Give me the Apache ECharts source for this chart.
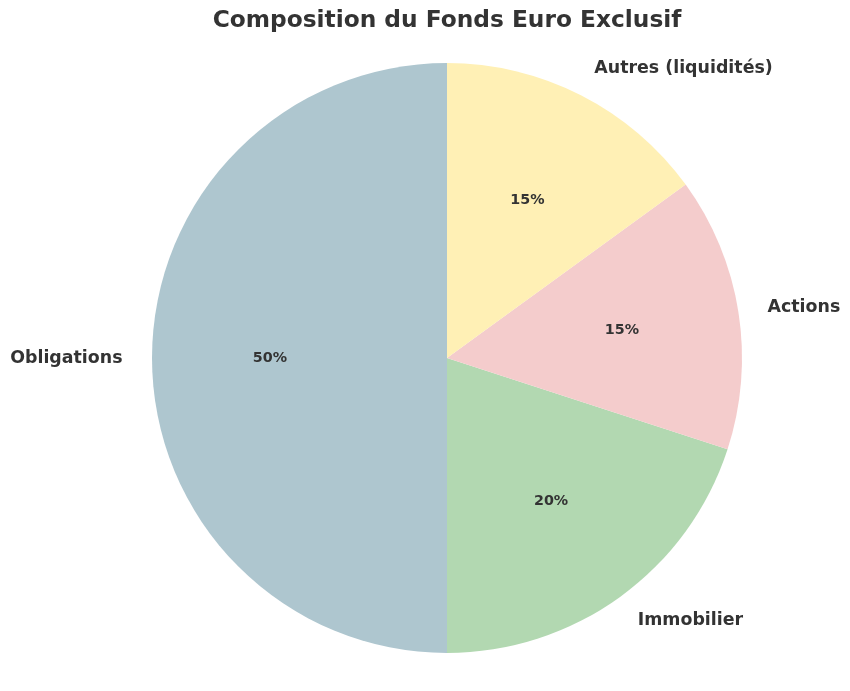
<!DOCTYPE html>
<html>
<head>
<meta charset="utf-8">
<script src="https://cdn.jsdelivr.net/npm/echarts@6/dist/echarts.min.js"></script>
<style>
html,body{margin:0;padding:0;background:#fff;}
#chart{width:850px;height:691px;}
</style>
</head>
<body>
<div id="chart"></div>
<script>
const titleText = 'Composition du Fonds Euro Exclusif';
const categories = ['Obligations', 'Immobilier', 'Actions', 'Autres (liquidités)'];
const values = [50, 20, 15, 15];
const colors = ['#AEC6CF', '#B2D8B1', '#F4CCCC', '#FFF0B5'];

const chart = echarts.init(document.getElementById('chart'), null, {renderer: 'canvas'});
const FONT = 'DejaVu Sans';
const CX = 447, CY = 358, R = 295;

const sliceData = categories.map((c, i) => ({name: c, value: values[i], itemStyle: {color: colors[i]}}));

chart.setOption({
  animation: false,
  backgroundColor: '#ffffff',
  title: {
    text: titleText,
    left: CX - 5,
    textAlign: 'center',
    top: 4,
    textStyle: {fontFamily: FONT, fontSize: 23.3, fontWeight: 'bold', color: '#333333'}
  },
  series: [
    {
      type: 'pie',
      center: [CX, CY],
      radius: [0, R],
      startAngle: 90,
      clockwise: false,
      avoidLabelOverlap: false,
      silent: true,
      data: sliceData,
      itemStyle: {borderWidth: 0},
      label: {
        show: true,
        position: 'outside',
        formatter: '{b}',
        fontFamily: FONT,
        fontSize: 17.4,
        fontWeight: 'bold',
        color: '#333333',
        distanceToLabelLine: 0,
        bleedMargin: 0
      },
      labelLine: {show: false, length: R * 0.1, length2: 0}
    },
    {
      type: 'pie',
      center: [CX, CY],
      radius: [0, R * 1.18],
      startAngle: 90,
      clockwise: false,
      silent: true,
      z: 5,
      data: categories.map((c, i) => ({name: c, value: values[i]})),
      itemStyle: {color: 'rgba(0,0,0,0)', borderWidth: 0},
      label: {
        show: true,
        position: 'inside',
        formatter: function (p) { return Math.round(p.percent) + '%'; },
        fontFamily: FONT,
        fontSize: 14.3,
        fontWeight: 'bold',
        color: '#333333'
      },
      labelLine: {show: false}
    }
  ]
});
</script>
</body>
</html>
